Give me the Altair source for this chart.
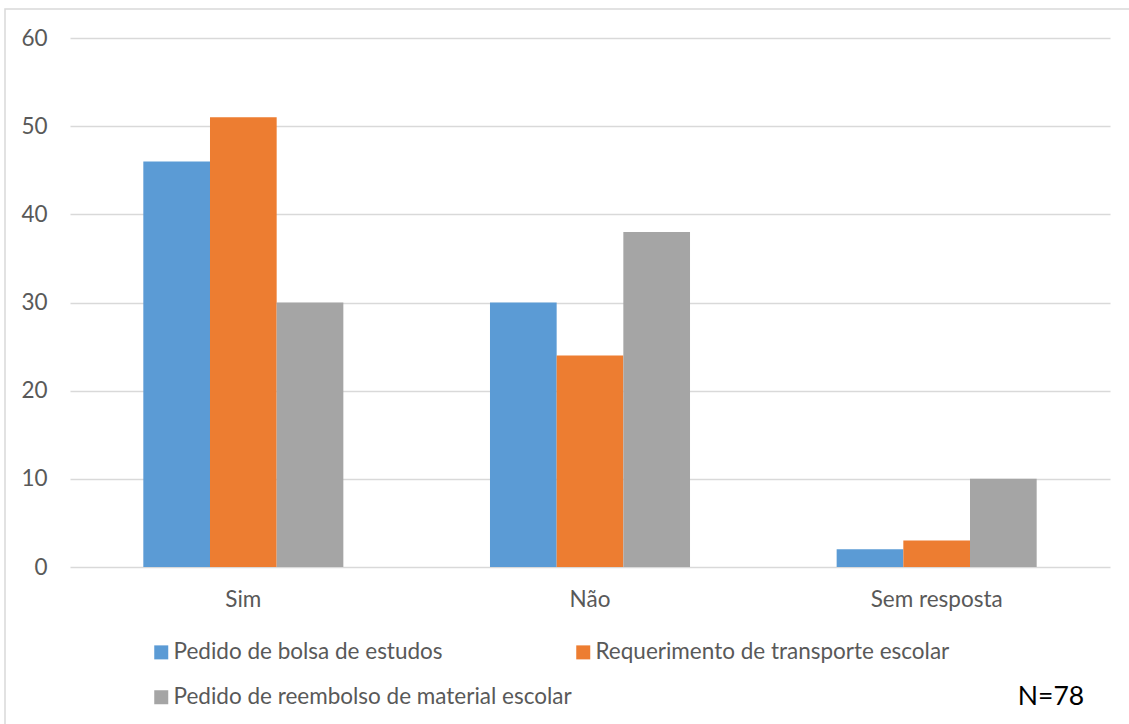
import altair as alt
import pandas as pd

categories = ["Sim", "Não", "Sem resposta"]
series = [
    "Pedido de bolsa de estudos",
    "Requerimento de transporte escolar",
    "Pedido de reembolso de material escolar",
]
bolsa = [46, 30, 2]
transporte = [51, 24, 3]
reembolso = [30, 38, 10]
colors = ["#5B9BD5", "#ED7D31", "#A5A5A5"]
y_ticks = [0, 10, 20, 30, 40, 50, 60]
note = "N=78"

rows = []
for s, vals in zip(series, [bolsa, transporte, reembolso]):
    for c, v in zip(categories, vals):
        rows.append({"categoria": c, "serie": s, "valor": v})
df = pd.DataFrame(rows)

FONT = "Lato"
TXT = "#595959"
FS = 22.5

bars = alt.Chart(df).mark_bar().encode(
    x=alt.X("categoria:N", sort=categories, title=None,
            scale=alt.Scale(paddingInner=0.423, paddingOuter=0.2115),
            axis=alt.Axis(labelAngle=0, domain=False, ticks=False, grid=False,
                          labelFont=FONT, labelFontSize=FS, labelColor=TXT,
                          labelPadding=21)),
    xOffset=alt.XOffset("serie:N", sort=series),
    y=alt.Y("valor:Q", title=None,
            scale=alt.Scale(domain=[0, 60], nice=False),
            axis=alt.Axis(values=y_ticks, domain=False, ticks=False, grid=True,
                          gridColor="#D9D9D9", gridWidth=1.3,
                          labelFont=FONT, labelFontSize=FS, labelColor=TXT,
                          labelPadding=23)),
    color=alt.Color("serie:N", sort=series, title=None,
                    scale=alt.Scale(domain=series, range=colors),
                    legend=alt.Legend(orient="none", legendX=80, legendY=603,
                                      padding=0, direction="horizontal",
                                      columns=2, gridAlign="each",
                                      columnPadding=-6, rowPadding=22,
                                      symbolType="square", symbolSize=196,
                                      symbolStrokeWidth=0, labelOffset=1,
                                      labelFont=FONT, labelFontSize=FS,
                                      labelColor=TXT, labelLimit=600)),
)

border = alt.Chart(pd.DataFrame({"k": [0]})).mark_rect(
    fill="transparent", stroke="#D9D9D9", strokeWidth=1.5
).encode(x=alt.value(-65), x2=alt.value(1200), y=alt.value(-29), y2=alt.value(800))

ntext = alt.Chart(pd.DataFrame({"t": [note]})).mark_text(
    font=FONT, fontSize=26.5, color="#000000", align="center", baseline="middle"
).encode(text="t:N", x=alt.value(981), y=alt.value(659))

chart = alt.layer(border, bars, ntext).properties(
    width=1040, height=529,
    autosize=alt.AutoSizeParams(type="none"),
    padding={"left": 70, "top": 38, "right": 19, "bottom": 157},
).configure_view(stroke=None)

chart.save("out.html", embed_options={"renderer": "svg", "actions": False})
